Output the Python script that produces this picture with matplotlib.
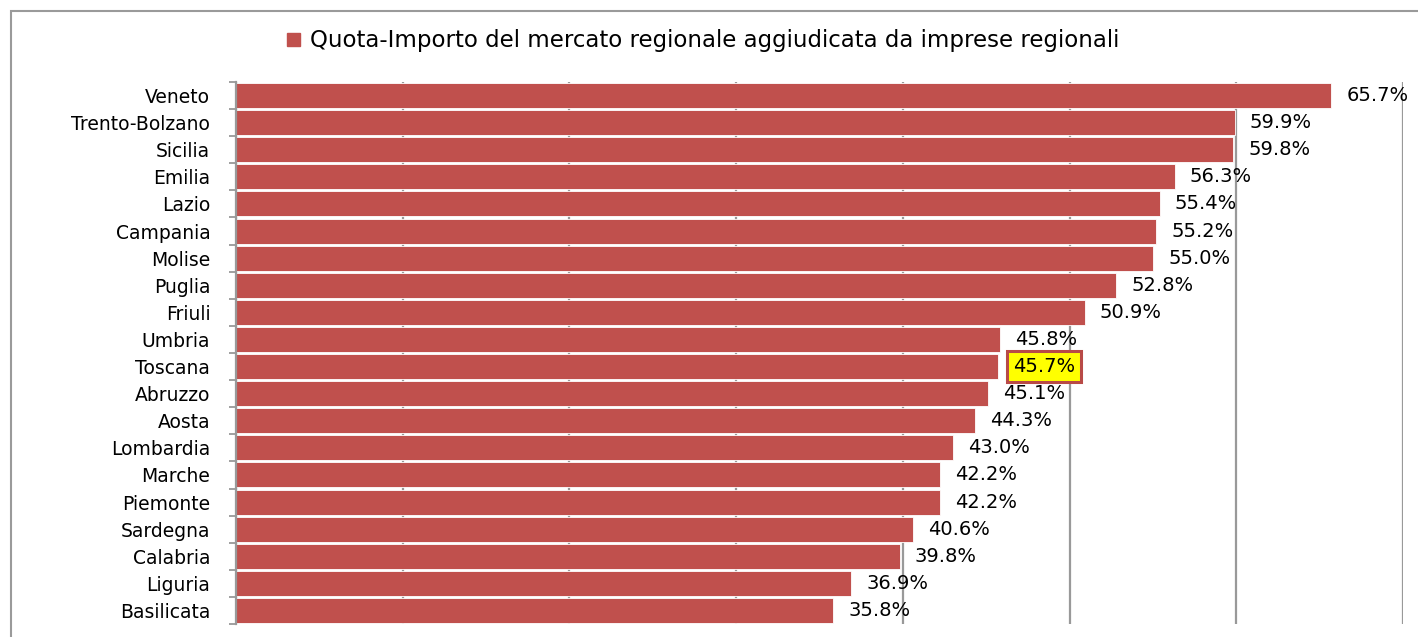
import numpy as np
import matplotlib.pyplot as plt
from matplotlib.patches import Rectangle

regioni = ['Veneto', 'Trento-Bolzano', 'Sicilia', 'Emilia', 'Lazio', 'Campania',
           'Molise', 'Puglia', 'Friuli', 'Umbria', 'Toscana', 'Abruzzo', 'Aosta',
           'Lombardia', 'Marche', 'Piemonte', 'Sardegna', 'Calabria', 'Liguria',
           'Basilicata']
quota = [65.7, 59.9, 59.8, 56.3, 55.4, 55.2, 55.0, 52.8, 50.9, 45.8, 45.7, 45.1,
         44.3, 43.0, 42.2, 42.2, 40.6, 39.8, 36.9, 35.8]
evidenziata = 'Toscana'
legenda = 'Quota-Importo del mercato regionale aggiudicata da imprese regionali'

rosso = '#C0504D'
grigio = '#999999'

fig = plt.figure(figsize=(14.18, 6.37), dpi=100)
W, H = 1418, 637

# cornice del grafico
fig.patches.append(Rectangle((11 / W, -0.1), 1.2, 1 - 11 / H + 0.1,
                             transform=fig.transFigure, fill=False,
                             edgecolor='#9a9a9a', lw=1.5))

ax = fig.add_axes([236 / W, 13 / H, (1403 - 236) / W, (624 - 82) / H])
y = np.arange(len(regioni))
ax.barh(y, quota, height=0.92, color=rosso, edgecolor='white', lw=0.6, zorder=2)
ax.set_xlim(0, 70)
ax.set_ylim(len(regioni) - 0.5, -0.5)
ax.set_xticks(np.arange(0, 71, 10))
ax.xaxis.grid(True, color=grigio, lw=1.6, zorder=0)
ax.set_axisbelow(True)
ax.tick_params(axis='x', length=0, labelbottom=False)

ax.set_yticks(y)
ax.set_yticklabels(regioni, family='DejaVu Sans', fontsize=13.5)
ax.set_yticks(np.arange(-0.5, len(regioni)), minor=True)
ax.tick_params(axis='y', which='major', length=0, pad=18.5)
ax.tick_params(axis='y', which='minor', length=5, width=1.3, color=grigio)

for s in ['top', 'right', 'bottom']:
    ax.spines[s].set_visible(False)
ax.spines['left'].set_color(grigio)
ax.spines['left'].set_linewidth(1.6)

for i, v in enumerate(quota):
    testo = f'{v:.1f}%'
    if regioni[i] == evidenziata:
        ax.annotate(testo, (v, i), xytext=(11, 0), textcoords='offset points',
                    va='center', ha='left', family='DejaVu Sans', fontsize=14,
                    bbox=dict(boxstyle='square,pad=0.3', fc='#FFFF00',
                              ec='#B84A47', lw=2.2))
    else:
        ax.annotate(testo, (v, i), xytext=(11, 0), textcoords='offset points',
                    va='center', ha='left', family='DejaVu Sans', fontsize=14)

# legenda
fig.patches.append(Rectangle((287 / W, 1 - 46 / H), 13 / W, 13 / H,
                             transform=fig.transFigure, color=rosso))
fig.text(310 / W, 1 - 40 / H, legenda, family='DejaVu Sans', fontsize=16.5,
         va='center', ha='left')

fig.savefig('out.png', dpi=100)
